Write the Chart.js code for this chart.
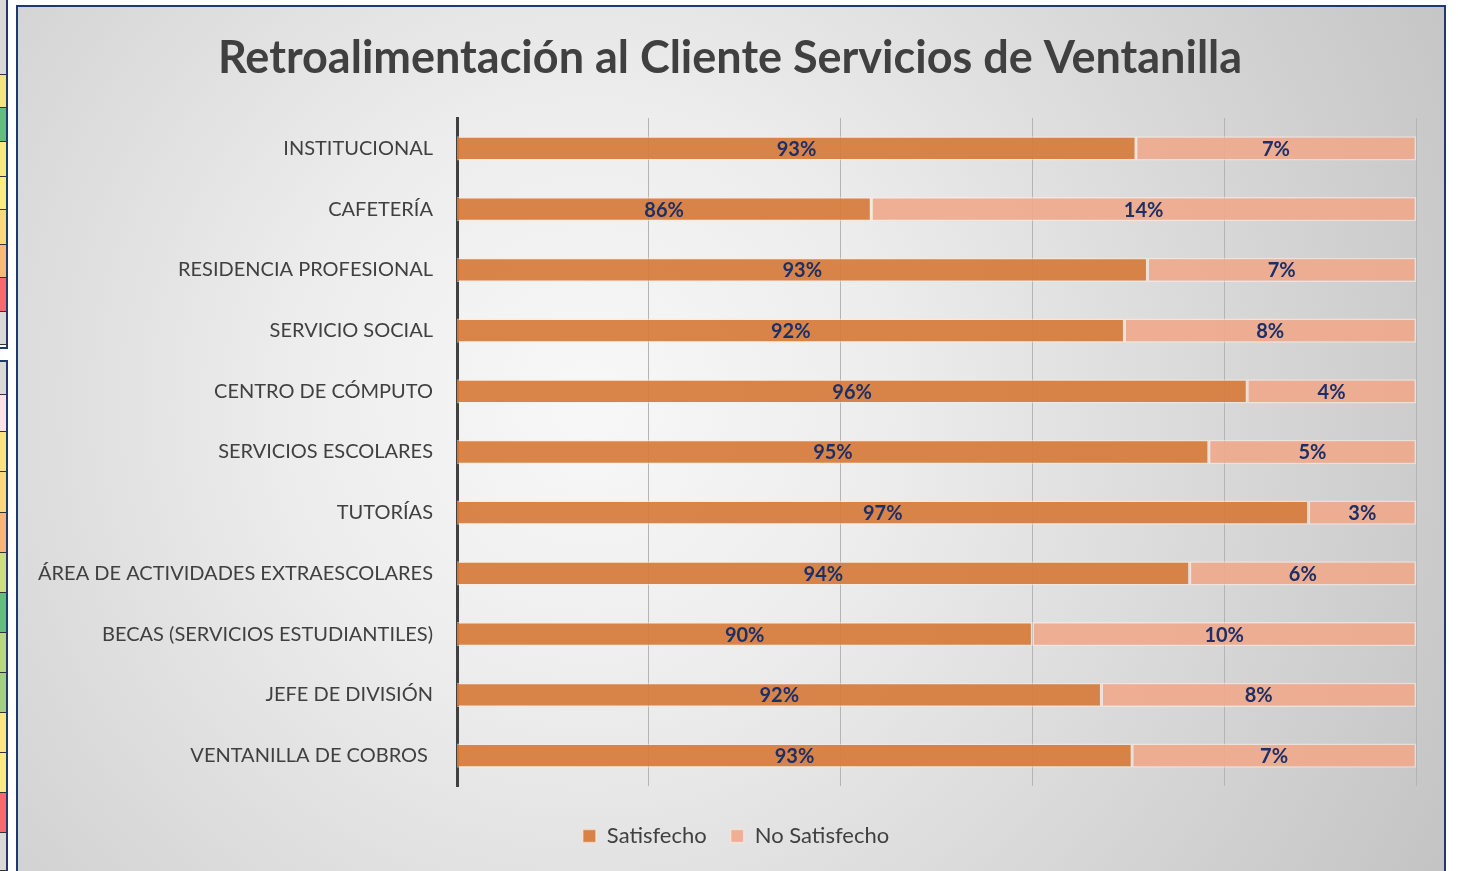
<!DOCTYPE html>
<html>
<head>
<meta charset="utf-8">
<script src="https://cdn.jsdelivr.net/npm/chart.js@4.4.1/dist/chart.umd.min.js"></script>
<style>
  html, body { margin: 0; padding: 0; background: #ffffff; }
  body { width: 1458px; height: 871px; position: relative; overflow: hidden; }
  #frame {
    position: absolute; left: 16px; top: 5px; width: 1426px; height: 880px;
    border: 2px solid #1f3a73;
    background: radial-gradient(circle at 40% 45%, #f8f8f8 0%, #ededed 30%, #c3c3c3 100%);
  }
  #chartBox { position: absolute; left: 0; top: 0; width: 1458px; height: 871px; }
  .panel { position: absolute; left: 0; width: 6px; border-right: 2px solid #1f3a73; }
  .cell { position: absolute; left: 0; width: 6px; border-bottom: 1px solid #333; box-sizing: border-box; }
</style>
</head>
<body>
<div id="leftStrip"></div>
<div id="frame"></div>
<div id="chartBox"><canvas id="c" width="1458" height="871"></canvas></div>
<script>
// ---- data ----
const categories = [
  'INSTITUCIONAL',
  'CAFETERÍA',
  'RESIDENCIA PROFESIONAL',
  'SERVICIO SOCIAL',
  'CENTRO DE CÓMPUTO',
  'SERVICIOS ESCOLARES',
  'TUTORÍAS',
  'ÁREA DE ACTIVIDADES EXTRAESCOLARES',
  'BECAS (SERVICIOS ESTUDIANTILES)',
  'JEFE DE DIVISIÓN',
  'VENTANILLA DE COBROS '
];
const satisfecho   = [92.7, 85.8, 93.0, 92.4, 95.6, 94.6, 97.2, 94.1, 90.0, 91.8, 92.6];
const noSatisfecho = [7.3, 14.2, 7.0, 7.6, 4.4, 5.4, 2.8, 5.9, 10.0, 8.2, 7.4];
const seriesNames  = ['Satisfecho', 'No Satisfecho'];
const chartTitle   = 'Retroalimentación al Cliente Servicios de Ventanilla';
const axisMin = 75, axisMax = 100, axisStep = 5;

// decorative cut-off table at the left edge
const stripPanels = [
  { top: 0, cells: [[0,75,'#d9d9d9'],[75,108,'#f2e683'],[108,142,'#63be7b'],[142,177,'#f9e882'],[177,210,'#ffeb84'],[210,245,'#fed680'],[245,278,'#fbb979'],[278,312,'#f8696b'],[312,345,'#d9d9d9']], bottom: 347 },
  { top: 360, cells: [[362,395,'#d9d9d9'],[395,432,'#fce4e4'],[432,472,'#ffe083'],[472,513,'#fed680'],[513,553,'#fbb379'],[553,593,'#cddd82'],[593,633,'#63be7b'],[633,673,'#b9d780'],[673,713,'#a3d07f'],[713,753,'#ffe484'],[753,793,'#ffe984'],[793,833,'#f8696b'],[833,871,'#d9d9d9']], bottom: 871 }
];
const strip = document.getElementById('leftStrip');
stripPanels.forEach(p => {
  const pd = document.createElement('div');
  pd.className = 'panel';
  pd.style.top = p.top + 'px';
  pd.style.height = (p.bottom - p.top) + 'px';
  pd.style.borderTop = p.top > 0 ? '2px solid #1f3a73' : 'none';
  pd.style.borderBottom = p.bottom < 871 ? '2px solid #1f3a73' : 'none';
  strip.appendChild(pd);
  p.cells.forEach(c => {
    const d = document.createElement('div');
    d.className = 'cell';
    d.style.top = c[0] + 'px';
    d.style.height = (c[1] - c[0]) + 'px';
    d.style.background = c[2];
    strip.appendChild(d);
  });
});

const FONT = 'Lato, "Open Sans", sans-serif';

const barLabels = {
  id: 'barLabels',
  afterDatasetsDraw(chart) {
    const ctx = chart.ctx;
    const area = chart.chartArea;
    ctx.save();
    ctx.font = 'bold 20px ' + FONT;
    ctx.fillStyle = '#1c2f66';
    ctx.textAlign = 'center';
    ctx.textBaseline = 'middle';
    chart.data.datasets.forEach((ds, di) => {
      const meta = chart.getDatasetMeta(di);
      meta.data.forEach((bar, i) => {
        const p = bar.getProps(['x', 'base', 'y'], true);
        const l = Math.max(Math.min(p.x, p.base), area.left);
        const r = Math.min(Math.max(p.x, p.base), area.right);
        ctx.fillText(Math.round(ds.data[i]) + '%', (l + r) / 2, p.y + 1);
      });
    });
    ctx.restore();
  }
};

// centre legend and title under the whole frame rather than the padded canvas
const boxShift = {
  id: 'boxShift',
  afterLayout(chart) {
    if (chart.legend) { chart.legend.left += 18; chart.legend.right += 18; }
    if (chart.titleBlock) { chart.titleBlock.left += 12; chart.titleBlock.right += 12; }
  }
};

const padLeft = 20;
new Chart(document.getElementById('c'), {
  type: 'bar',
  data: {
    labels: categories,
    datasets: [
      { label: seriesNames[0], data: satisfecho, backgroundColor: 'rgba(214,124,60,0.93)', borderColor: 'rgba(255,235,220,0.55)', borderWidth: 1.5, borderSkipped: false, clip: 0 },
      { label: seriesNames[1], data: noSatisfecho, backgroundColor: 'rgba(240,168,140,0.9)', borderColor: 'rgba(255,235,225,0.6)', borderWidth: 1.5, borderSkipped: false, clip: 0 }
    ]
  },
  options: {
    indexAxis: 'y',
    responsive: false,
    animation: false,
    barPercentage: 0.4,
    categoryPercentage: 1,
    layout: { padding: { left: padLeft, right: 42, top: 8, bottom: 14 } },
    scales: {
      x: {
        stacked: true, min: axisMin, max: axisMax,
        ticks: { display: false, stepSize: axisStep },
        grid: { color: '#b4b4b4', lineWidth: 1, drawTicks: true, tickLength: 15, tickColor: 'rgba(0,0,0,0)' },
        border: { display: false }
      },
      y: {
        stacked: true,
        afterFit(s) { s.width = 457 - padLeft; },
        ticks: { color: '#404040', font: { family: FONT, size: 20 }, padding: 24 },
        grid: { display: false, drawTicks: false },
        border: { display: true, color: '#404040', width: 3 }
      }
    },
    plugins: {
      title: {
        display: true, text: chartTitle, color: '#404040',
        font: { family: FONT, size: 45, weight: 'bold' },
        padding: { top: 23, bottom: 33 }
      },
      legend: {
        position: 'bottom',
        labels: { color: '#404040', font: { family: FONT, size: 22 }, boxWidth: 13, boxHeight: 13, padding: 24 }
      },
      tooltip: { enabled: false }
    }
  },
  plugins: [barLabels, boxShift]
});
</script>
</body>
</html>
